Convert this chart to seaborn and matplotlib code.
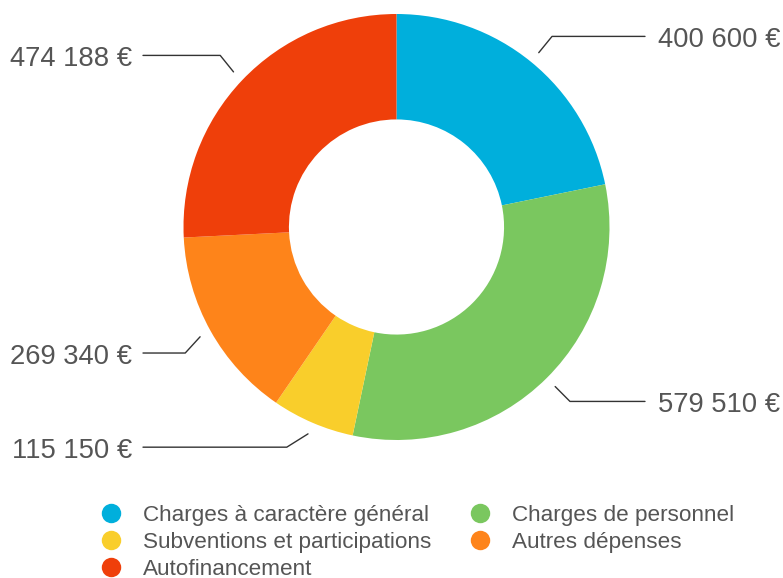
import numpy as np
import matplotlib
matplotlib.use("Agg")
import matplotlib.pyplot as plt
from matplotlib.lines import Line2D
import seaborn as sns

# Données
categories = ["Charges à caractère général", "Charges de personnel",
              "Subventions et participations", "Autres dépenses", "Autofinancement"]
valeurs = [400600, 579510, 115150, 269340, 474188]
etiquettes = ["400 600 €", "579 510 €", "115 150 €", "269 340 €", "474 188 €"]
couleurs = ["#00AFDC", "#7AC75F", "#F9CE2B", "#FE841A", "#EF3F0A"]

sns.set_theme(style="white")
plt.rcParams["font.family"] = ["Liberation Sans", "DejaVu Sans"]

W, H = 783, 578
fig = plt.figure(figsize=(W / 100, H / 100), dpi=100)
ax = fig.add_axes([0, 0, 1, 1])

cx, cy, R = 396.5, 351, 213
palette = sns.color_palette(couleurs)
wedges, _ = ax.pie(valeurs, colors=palette, startangle=90, counterclock=False,
                   radius=R, center=(cx, cy), frame=True,
                   wedgeprops=dict(width=R * 0.495, linewidth=0))
ax.set_xlim(0, W)
ax.set_ylim(0, H)
ax.set_aspect("equal")
ax.axis("off")

# petits décalages verticaux des étiquettes (px) pour les rapprocher
decalage = [0, 0, 6, -6, 2]

# Étiquettes avec lignes de rappel
for w, lab, dy in zip(wedges, etiquettes, decalage):
    ang = np.deg2rad((w.theta1 + w.theta2) / 2)
    c, s = np.cos(ang), np.sin(ang)
    x0, y0 = cx + 225 * c, cy + 225 * s
    y1 = cy + 246 * s + dy
    x1 = cx + np.sign(c) * np.sqrt(246 ** 2 - (y1 - cy) ** 2)
    if c >= 0:
        x2, xt, ha = 645, 658, "left"
    else:
        x2, xt, ha = 143, 132, "right"
    ax.plot([x0, x1, x2], [y0, y1, y1], color="#333333", lw=1)
    ax.text(xt, y1 - 3.5, lab, ha=ha, va="center", fontsize=19.7, color="#555555")

# Légende
ordre = [0, 2, 4, 1, 3]
handles = [Line2D([], [], marker="o", ls="", markersize=14,
                  markerfacecolor=couleurs[i], markeredgewidth=0) for i in ordre]
labels = [categories[i] for i in ordre]
leg = ax.legend(handles, labels, ncol=2, frameon=False, loc="upper left",
                bbox_to_anchor=(100 / W, 1 - 505 / H), bbox_transform=fig.transFigure,
                fontsize=16.2, labelcolor="#555555", handlelength=1.0,
                handletextpad=0.9, columnspacing=1.69, labelspacing=0.26,
                borderpad=0, borderaxespad=0)

fig.savefig("out.png", dpi=100, facecolor="white")
